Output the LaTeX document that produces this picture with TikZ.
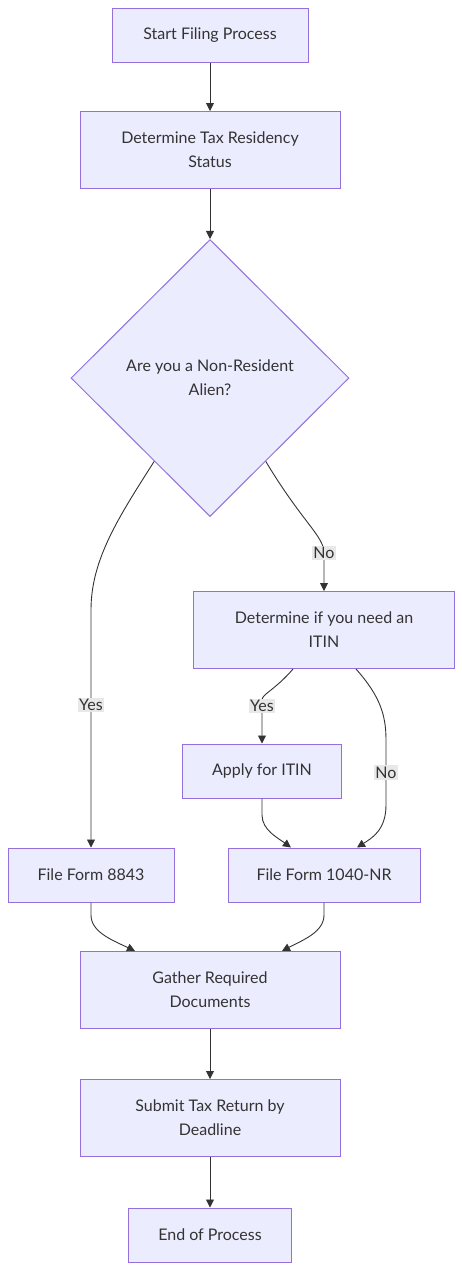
\documentclass[tikz,border=0pt]{standalone}
\usepackage{fontspec}
\setmainfont{Lato}
\usetikzlibrary{arrows.meta,calc,shapes.geometric}
\usepackage{xcolor}
\definecolor{flowFill} {HTML}{ECECFF}
\definecolor{flowEdge} {HTML}{9370DB}
\definecolor{flowInk}  {HTML}{333333}
\definecolor{flowLbl}  {HTML}{E8E8E8}

\begin{document}
\begin{tikzpicture}[x=1pt, y=-1pt,
  every node/.style ={font=\fontsize{16}{24}\selectfont, text=flowInk},
  pbox/.style       ={draw=flowEdge, line width=1pt, fill=flowFill, align=center, inner sep=0pt},
  decision/.style   ={diamond, draw=flowEdge, line width=1pt, fill=flowFill, align=center, inner sep=0pt,
                      minimum width=278pt, minimum height=277pt},
  flow/.style       ={-{Triangle[length=8pt, width=8pt]}, line width=0.9pt, draw=flowInk},
  elbl/.style       ={fill=flowLbl, inner sep=1.5pt, text=flowInk},
]

\useasboundingbox (0,0) rectangle (462,1270);

% nodes
\node[pbox, minimum width=196pt, minimum height=54pt] (start)  at (210,35)   {Start Filing Process};
\node[pbox, minimum width=260pt, minimum height=77pt] (resid)  at (210,150)  {Determine Tax Residency\\Status};
\node[decision]                                       (nra)    at (210,378)  {Are you a Non-Resident\\Alien?};
\node[pbox, minimum width=261pt, minimum height=77pt] (itin)   at (324,630)  {Determine if you need an\\ITIN};
\node[pbox, minimum width=159pt, minimum height=54pt] (apply)  at (262,771)  {Apply for ITIN};
\node[pbox, minimum width=166pt, minimum height=54pt] (f8843)  at (91,875)   {File Form 8843};
\node[pbox, minimum width=192pt, minimum height=54pt] (f1040)  at (324,875)  {File Form 1040-NR};
\node[pbox, minimum width=260pt, minimum height=77pt] (gather) at (210,990)  {Gather Required\\Documents};
\node[pbox, minimum width=260pt, minimum height=77pt] (submit) at (210,1118) {Submit Tax Return by\\Deadline};
\node[pbox, minimum width=163pt, minimum height=54pt] (finish) at (210,1235) {End of Process};

% connectors
\draw[flow] (start) -- (resid);
\draw[flow] (resid) -- (nra);
\draw[flow] ($(nra.west)!0.6!(nra.south)$) .. controls (118,518) and (91,560) .. (91,610)
  -- (f8843.north) node[elbl, pos=0.4] {Yes};
\draw[flow] ($(nra.east)!0.6!(nra.south)$) .. controls (302,522) and (324,536) .. (324,553)
  node[elbl] {No} -- (itin.north);
\draw[flow] ($(itin.south)+(-31,0)$) .. controls (275,690) and (262,694) .. (262,700)
  -- (apply.north) node[elbl, pos=0.14] {Yes};
\draw[flow] ($(itin.south)+(32,0)$) .. controls (380,696) and (386,715) .. (386,740)
  -- (386,805) node[elbl, midway] {No}
  .. controls (386,830) and (372,838) .. ($(f1040.north)+(33,0)$);
\draw[flow] (apply.south) -- (262,815) .. controls (262,830) and (278,838) .. ($(f1040.north)+(-33,0)$);
\draw[flow] (f8843.south) -- (91,915) .. controls (91,932) and (112,940) .. ($(gather.north)+(-75,0)$);
\draw[flow] (f1040.south) -- (324,915) .. controls (324,932) and (303,940) .. ($(gather.north)+(72,0)$);
\draw[flow] (gather) -- (submit);
\draw[flow] (submit) -- (finish);

\end{tikzpicture}
\end{document}
